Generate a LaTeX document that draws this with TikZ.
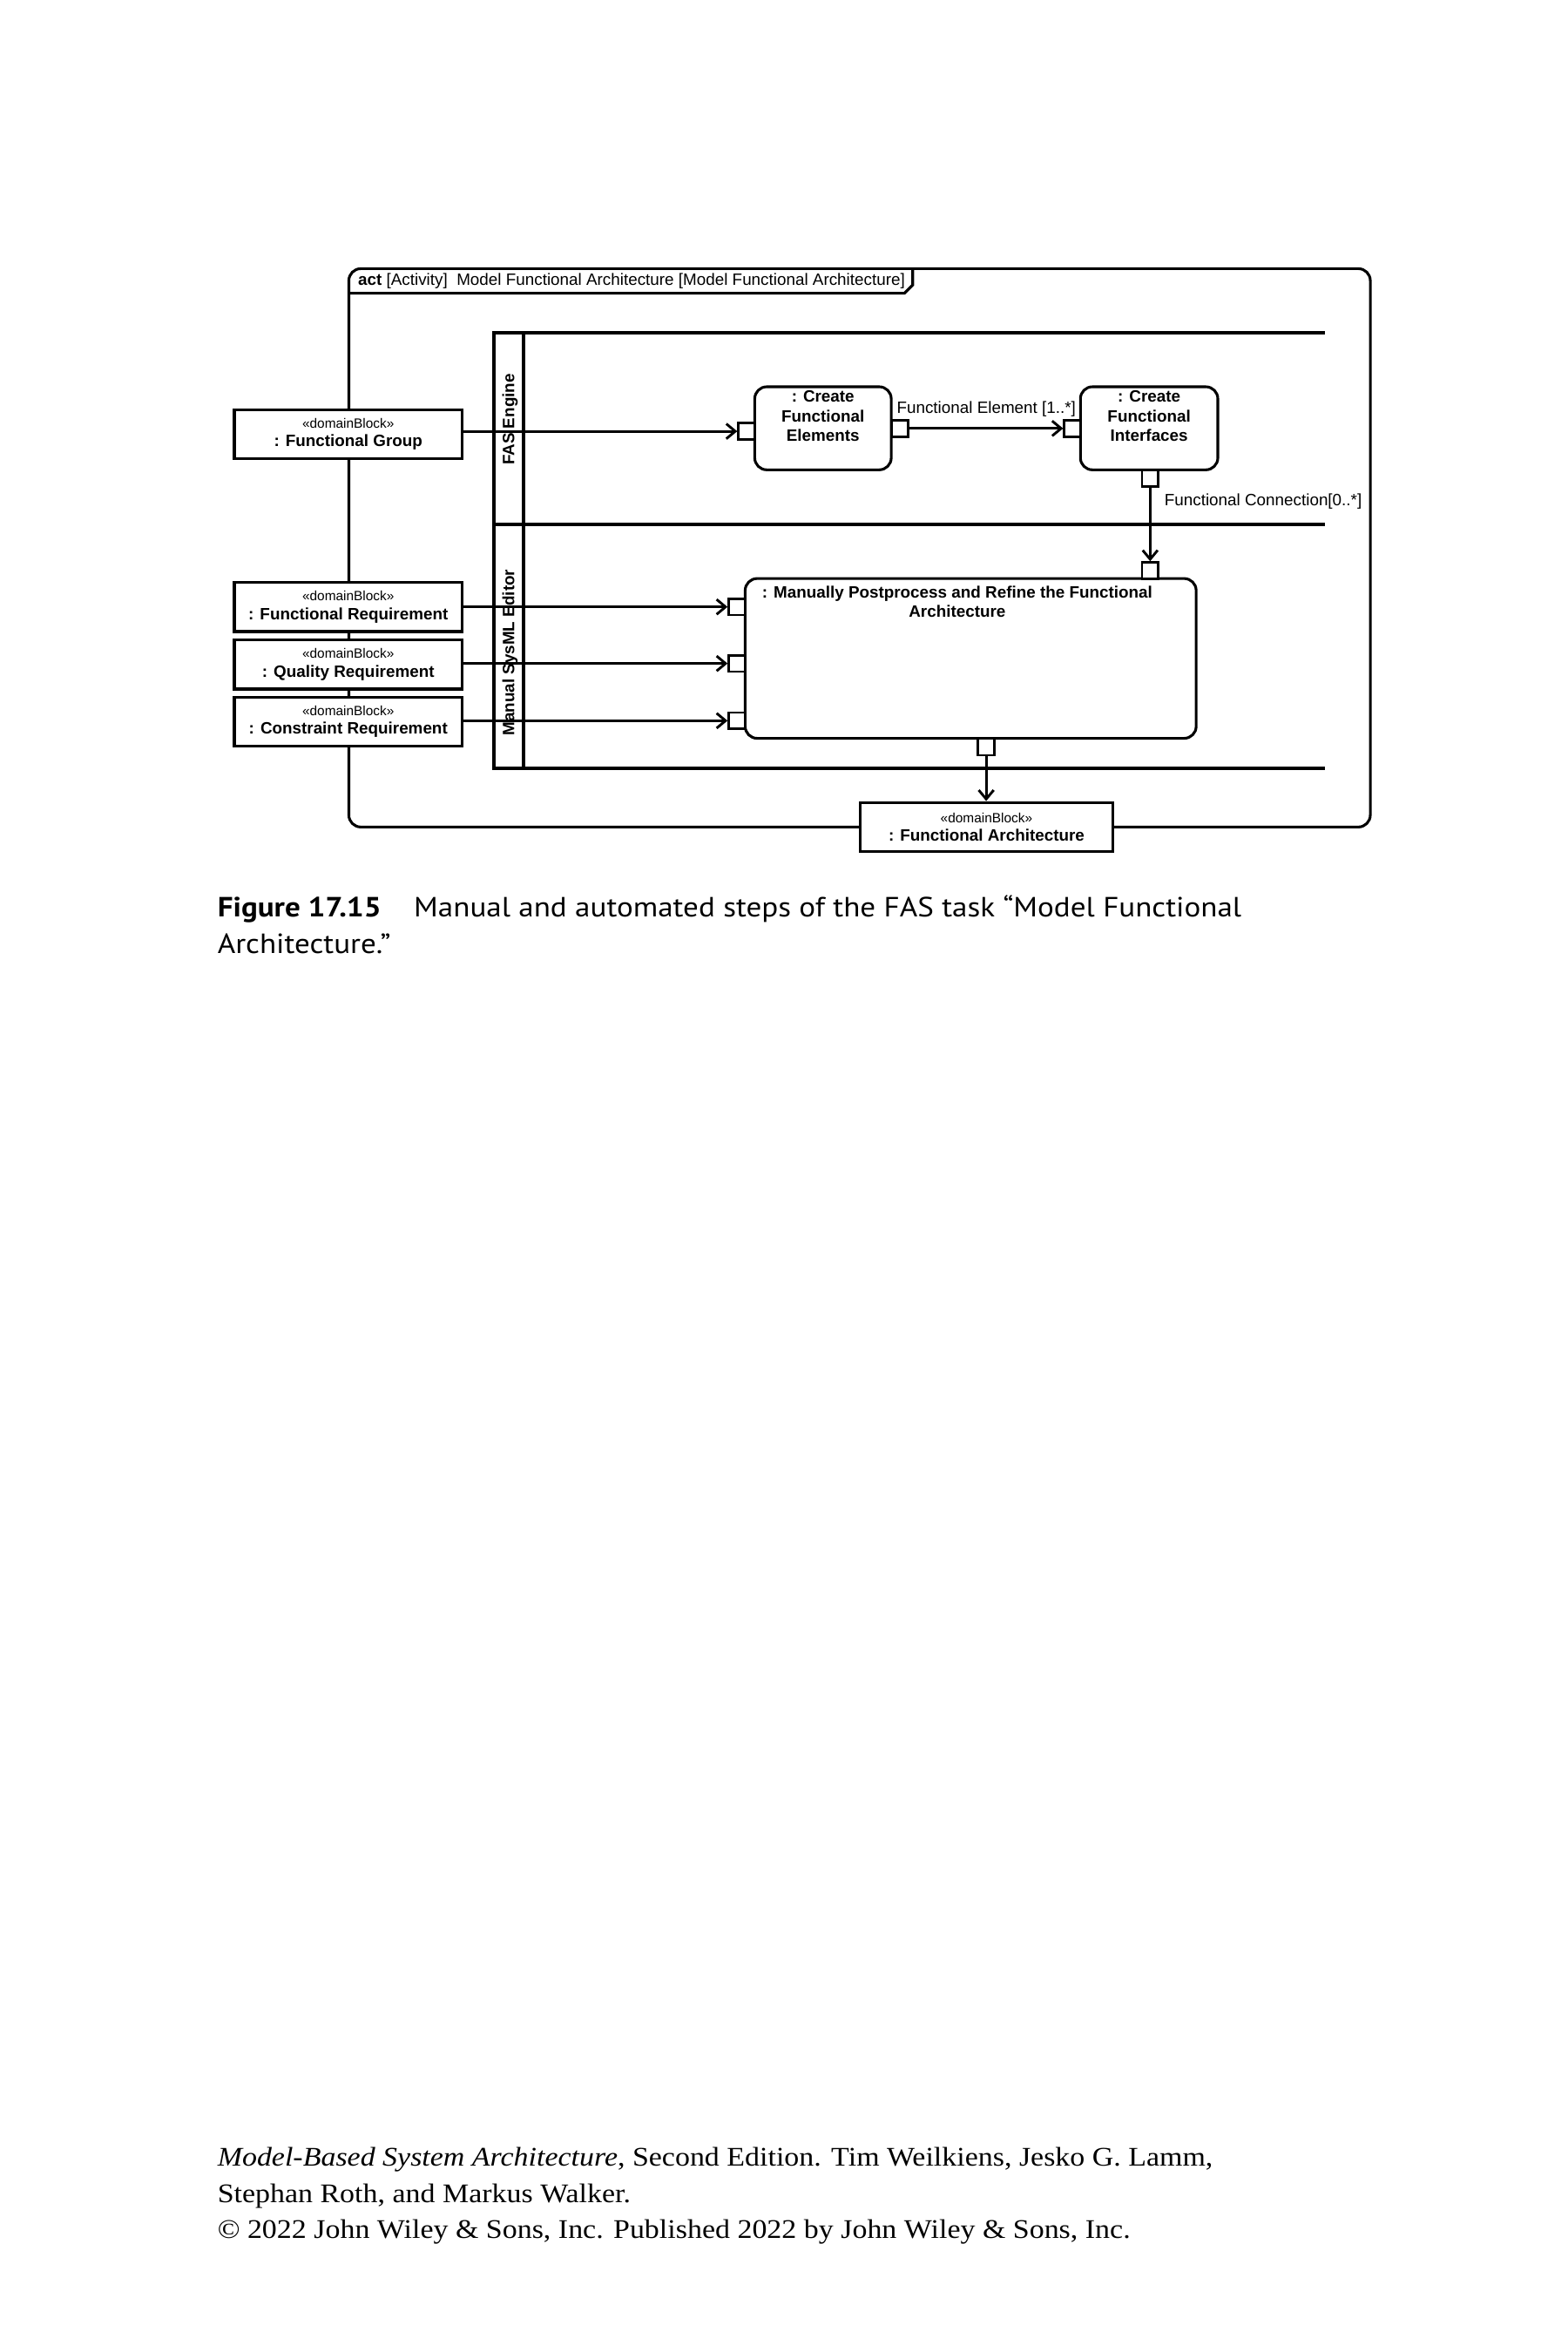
\documentclass[tikz,border=0pt]{standalone}
\usepackage{fontspec}
\newfontfamily\diagfont{Liberation Sans}
\newfontfamily\capfont[FakeStretch=1.1]{PT Sans}
\newfontfamily\footfont[FakeStretch=1.1]{Liberation Serif}
\usetikzlibrary{arrows.meta}
\newcommand{\stereo}{{\fontsize{9}{10}\selectfont «domainBlock»}}
\tikzset{
  frameline/.style={line width=1.8pt},
  laneline/.style={line width=2.4pt},
  blk/.style={draw, line width=1.8pt, fill=white, minimum width=152.6pt, minimum height=33pt, inner sep=0pt, align=center, font=\diagfont\fontsize{11}{12.6}\selectfont},
  actbox/.style={draw, line width=1.8pt, rounded corners=8pt, fill=white, inner sep=0pt},
  pinbox/.style={draw, line width=1.6pt, fill=white, minimum width=11pt, minimum height=11pt, inner sep=0pt},
  flow/.style={line width=1.7pt, -{Straight Barb[length=6pt,width=10pt,line width=1.7pt]}},
  acttext/.style={font=\diagfont\bfseries\fontsize{11}{13.2}\selectfont, align=center, inner sep=0pt},
  elabel/.style={font=\diagfont\fontsize{11}{13}\selectfont, inner sep=0pt},
  lanelabel/.style={font=\diagfont\bfseries\fontsize{11}{13}\selectfont, rotate=90, inner sep=0pt},
  hdrtext/.style={font=\diagfont\fontsize{11}{13}\selectfont, inner sep=0pt},
  captext/.style={anchor=base west, inner sep=0pt, font=\capfont\fontsize{18.6}{24}\selectfont},
  foottext/.style={anchor=base west, inner sep=0pt, font=\footfont\fontsize{18}{24}\selectfont},
}
\begin{document}
\begin{tikzpicture}[x=1pt,y=-1pt]
\useasboundingbox[fill=white] (0,0) rectangle (1050,1575);

% activity frame
\draw[frameline, rounded corners=8pt] (233.6,179.9) rectangle (917.6,553.8);
\draw[frameline] (233.6,196.4) -- (605.6,196.4) -- (611.2,190.8) -- (611.2,179.9);
\node[hdrtext, anchor=west] (hdr) at (239.6,188)
  {\textbf{act} [Activity]\ \ Model Functional Architecture [Model Functional Architecture]};

% swimlanes
\draw[laneline] (887,222.6) -- (330.9,222.6) -- (330.9,514.3) -- (887,514.3);
\draw[laneline] (350.6,222.6) -- (350.6,514.3);
\draw[laneline] (330.9,351) -- (887,351);
\node[lanelabel] (lane1) at (341.6,280.9) {FAS Engine};
\node[lanelabel] (lane2) at (341.6,437) {Manual SysML Editor};

% actions
\node[actbox, minimum width=91.4pt, minimum height=55.6pt] (cfe) at (551.1,286.8) {};
\node[acttext, anchor=north] (cfet) at ([yshift=-3.2pt]cfe.north) {: Create\\Functional\\Elements};
\node[actbox, minimum width=92pt, minimum height=55.6pt] (cfi) at (769.5,286.8) {};
\node[acttext, anchor=north] (cfit) at ([yshift=-3.2pt]cfi.north) {: Create\\Functional\\Interfaces};
\node[actbox, minimum width=302pt, minimum height=107pt] (mp) at (650,440.9) {};
\node[acttext, anchor=north] (mpt) at ([xshift=-9pt,yshift=-5.6pt]mp.north) {: Manually Postprocess and Refine the Functional\\Architecture};

% pins
\node[pinbox] (cfein) at (500,288.8) {};
\node[pinbox] (cfeout) at (602.8,286.9) {};
\node[pinbox] (cfiin) at (718.2,286.9) {};
\node[pinbox] (cfiout) at (770.2,320.2) {};
\node[pinbox] (mptop) at (770.2,382.1) {};
\node[pinbox] (mpin1) at (493.5,406.4) {};
\node[pinbox] (mpin2) at (493.5,444.3) {};
\node[pinbox] (mpin3) at (493.5,482.6) {};
\node[pinbox] (mpout) at (660.4,500.2) {};

% domain blocks
\node[blk] (fg) at (233.2,290.7) {\stereo\\\textbf{: Functional Group}};
\node[blk] (fr) at (233.2,406.4) {\stereo\\\textbf{: Functional Requirement}};
\node[blk] (qr) at (233.2,444.9) {\stereo\\\textbf{: Quality Requirement}};
\node[blk] (cr) at (233.2,483.2) {\stereo\\\textbf{: Constraint Requirement}};
\node[blk, minimum width=169.2pt] (fa) at (660.6,553.8) {\stereo\\\textbf{: Functional Architecture}};

% flows
\draw[flow] (fg.east |- cfein.west) -- (cfein.west);
\draw[flow] (cfeout.east) -- node[elabel, pos=0.5, yshift=12.8pt] (l1) {Functional Element [1..*]} (cfiin.west);
\draw[flow] (cfiout.south) -- node[elabel, pos=0.19, anchor=west, xshift=8.8pt] (l2) {Functional Connection[0..*]} (mptop.north);
\draw[flow] (fr.east |- mpin1.west) -- (mpin1.west);
\draw[flow] (qr.east |- mpin2.west) -- (mpin2.west);
\draw[flow] (cr.east |- mpin3.west) -- (mpin3.west);
\draw[flow] (mpout.south) -- (fa.north -| mpout.south);

% caption
\node[captext] (capnum) at (145.5,614) {\bfseries Figure 17.15};
\node[captext] (cap1) at (277,614) {Manual and automated steps of the FAS task “Model Functional};
\node[captext] (cap2) at (145.5,638.3) {Architecture.”};

% footer
\node[foottext] (ft1) at (145.5,1450.5) {\itshape Model-Based System Architecture\upshape, Second Edition. Tim Weilkiens, Jesko G. Lamm,};
\node[foottext] (ft2) at (145.5,1475) {Stephan Roth, and Markus Walker.};
\node[foottext] (ft3) at (145.5,1499) {© 2022 John Wiley \& Sons, Inc. Published 2022 by John Wiley \& Sons, Inc.};
\end{tikzpicture}
\end{document}
